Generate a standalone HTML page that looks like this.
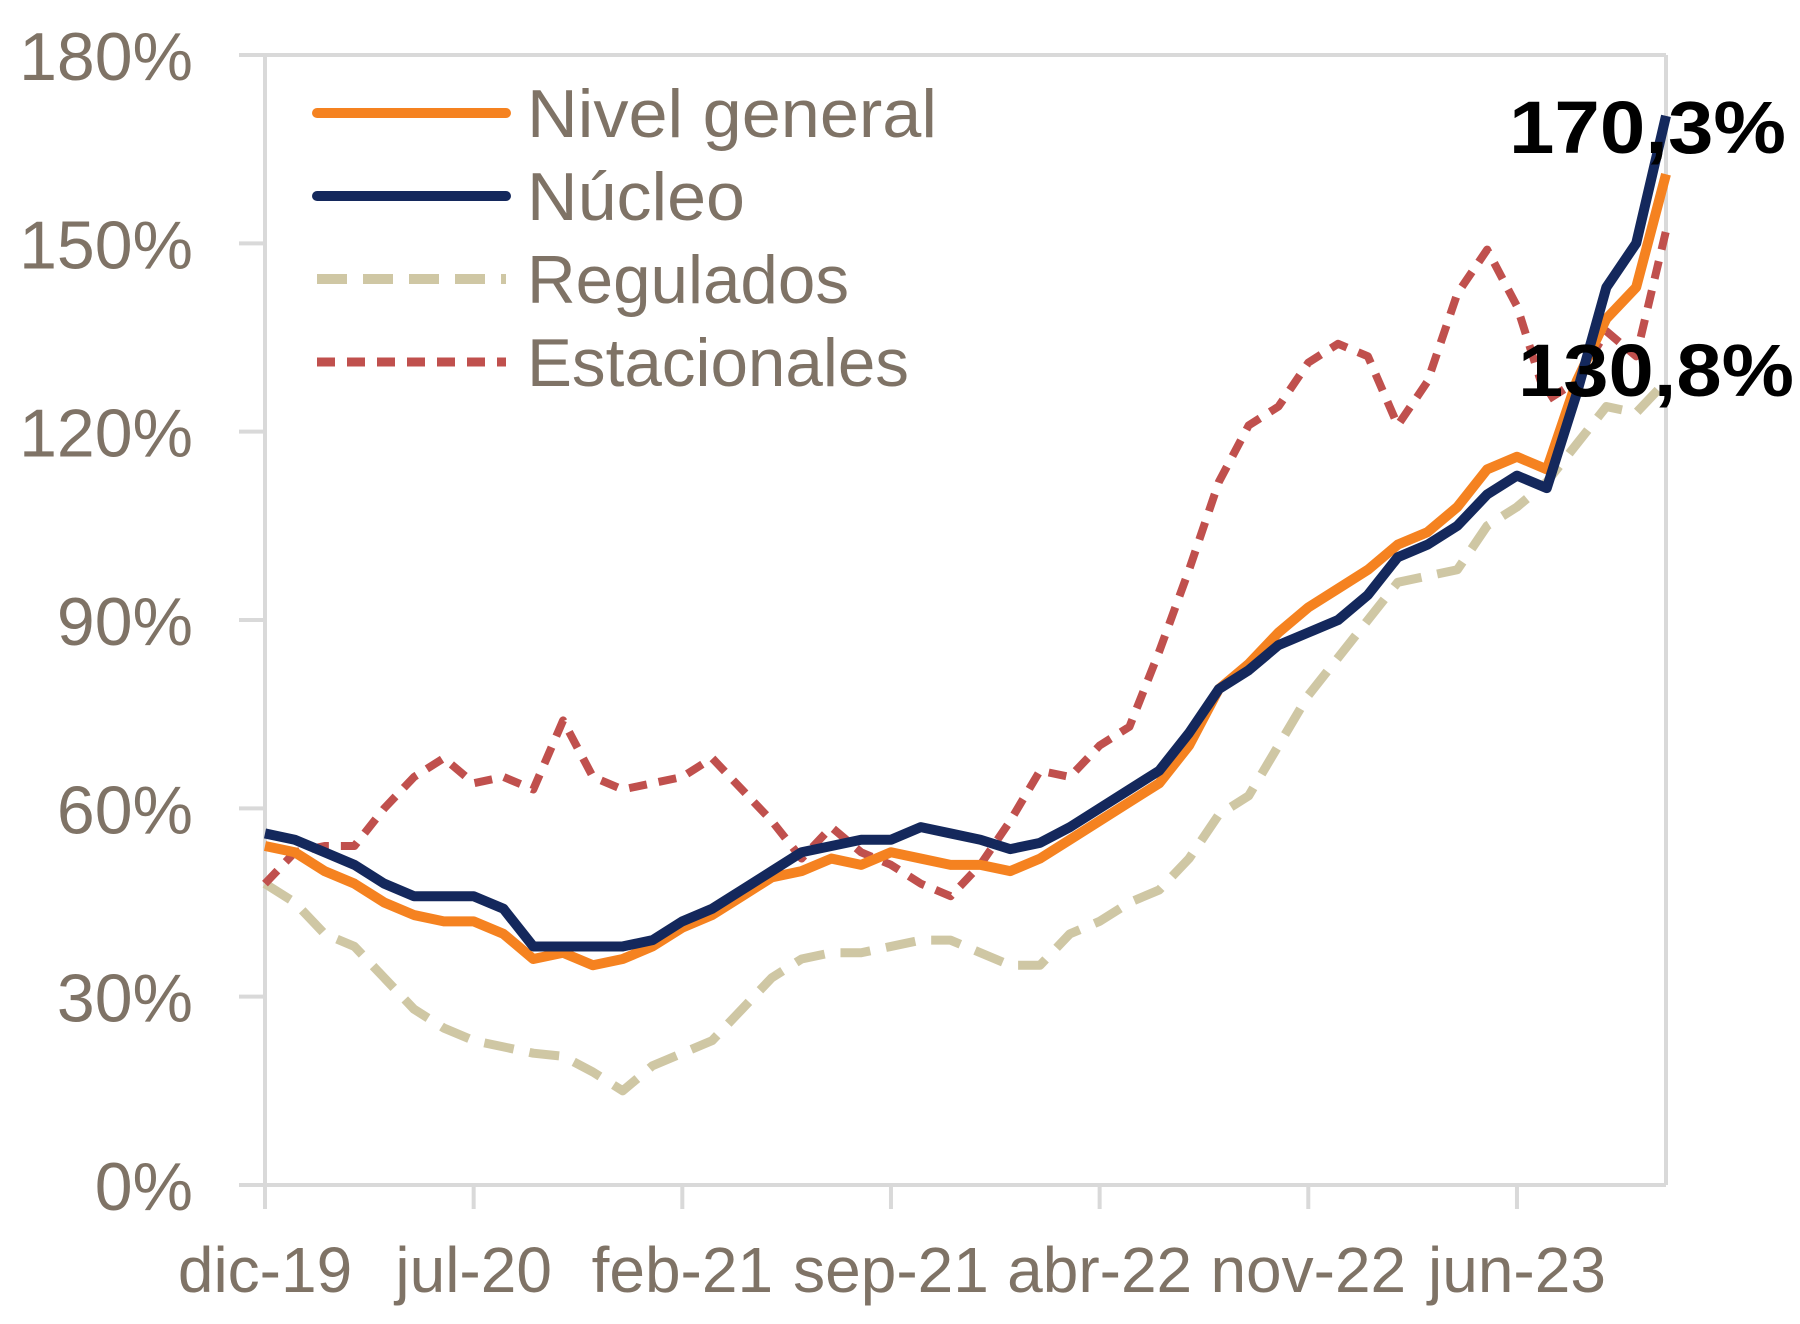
<!DOCTYPE html>
<html><head><meta charset="utf-8"><style>
html,body{margin:0;padding:0;background:#fff;}
svg{display:block;font-family:"Liberation Sans",sans-serif;}
</style></head><body>
<svg id="chart" width="1800" height="1324" viewBox="0 0 1800 1324" xmlns="http://www.w3.org/2000/svg">
<g id="axes"></g>
<g id="series"></g>
<g id="legend">
  <line x1="317" y1="113" x2="506" y2="113" stroke="#f58220" stroke-width="10" stroke-linecap="round"/>
  <text x="527" y="137" font-size="68" fill="#7f7366" textLength="410" lengthAdjust="spacingAndGlyphs">Nivel general</text>
  <line x1="317" y1="196" x2="506" y2="196" stroke="#14285c" stroke-width="10" stroke-linecap="round"/>
  <text x="527" y="220" font-size="68" fill="#7f7366" textLength="218" lengthAdjust="spacingAndGlyphs">Núcleo</text>
  <line x1="317" y1="279" x2="506" y2="279" stroke="#cfc7a4" stroke-width="10" stroke-dasharray="30,16"/>
  <text x="527" y="303" font-size="68" fill="#7f7366" textLength="322" lengthAdjust="spacingAndGlyphs">Regulados</text>
  <line x1="317" y1="362" x2="506" y2="362" stroke="#c0504d" stroke-width="9" stroke-dasharray="18,12"/>
  <text x="527" y="386" font-size="68" fill="#7f7366" textLength="382" lengthAdjust="spacingAndGlyphs">Estacionales</text>
</g>
<text x="1509" y="153" font-size="74" font-weight="bold" fill="#000" textLength="277" lengthAdjust="spacingAndGlyphs">170,3%</text>
<text x="1518" y="396" font-size="74" font-weight="bold" fill="#000" textLength="276" lengthAdjust="spacingAndGlyphs">130,8%</text>
</svg>
<script>
const months = 48;
const yTicks = [0,30,60,90,120,150,180];
const yTickLabels = ["0%","30%","60%","90%","120%","150%","180%"];
const xTickIdx = [0,7,14,21,28,35,42];
const xTickLabels = ["dic-19","jul-20","feb-21","sep-21","abr-22","nov-22","jun-23"];
const nivelGeneral = [54,53,50,48,45,43,42,42,40,36,37,35,36,38,41,43,46,49,50,52,51,53,52,51,51,50,52,55,58,61,64,70,79,83,88,92,95,98,102,104,108,114,116,114,128,138,143,161];
const nucleo = [56,55,53,51,48,46,46,46,44,38,38,38,38,39,42,44,47,50,53,54,55,55,57,56,55,53.5,54.5,57,60,63,66,72,79,82,86,88,90,94,100,102,105,110,113,111,126,143,150,170.3];
const regulados = [48,45,40,38,33,28,25,23,22,21,20.5,18,15,19,21,23,28,33,36,37,37,38,39,39,37,35,35,40,42,45,47,52,59,62,70,78,84,90,96,97,98,105,108,112,118,124,123,128];
const estacionales = [48,53,54,54,60,65,68,64,65,63,74,65,63,64,65,68,63,58,52,57,53,51,48,46,51,58,66,65,70,73,85,98,112,121,124,131,134,132,121,128,142,149,140,125,128,136,132,152];

const L=265,R=1666,T=55,B=1185;
const xs=i=>L+(R-L)*i/(months-1);
const ys=v=>B-(B-T)*v/180;
const NS="http://www.w3.org/2000/svg";
const axes=document.getElementById('axes');
const ser=document.getElementById('series');
function mk(tag,attrs,parent){const e=document.createElementNS(NS,tag);for(const k in attrs)e.setAttribute(k,attrs[k]);parent.appendChild(e);return e;}
const grey="#d9d9d9", txt="#7f7366";
let f=mk('line',{x1:R,y1:T,x2:R,y2:B,stroke:grey,'stroke-width':4},axes);


f=mk('line',{x1:L,y1:T,x2:R,y2:T,stroke:grey,'stroke-width':4},axes);


f=mk('line',{x1:L,y1:T,x2:L,y2:B,stroke:grey,'stroke-width':4},axes);


f=mk('line',{x1:L-26,y1:B,x2:R,y2:B,stroke:grey,'stroke-width':4},axes);


yTicks.forEach((v,i)=>{
  const t=mk('line',{x1:L-26,y1:ys(v),x2:L,y2:ys(v),stroke:grey,'stroke-width':4},axes);
  
  
  const lb=mk('text',{x:193,y:ys(v)+25,'font-size':68,fill:txt,'text-anchor':'end'},axes);
  
  
  lb.textContent=yTickLabels[i];
});
xTickIdx.forEach((m,i)=>{
  const x=xs(m);
  const t=mk('line',{x1:x,y1:B,x2:x,y2:B+24,stroke:grey,'stroke-width':4},axes);
  
  
  const lb=mk('text',{x:x,y:1292,'font-size':64,fill:txt,'text-anchor':'middle'},axes);
  
  
  lb.textContent=xTickLabels[i];
});
function line(arr,color,w,dash,name){
  const p=mk('polyline',{points:arr.map((v,i)=>xs(i)+','+ys(v)).join(' '),fill:'none',stroke:color,'stroke-width':w,'stroke-linejoin':'round'},ser);
  if(dash)p.setAttribute('stroke-dasharray',dash);
  
  
}
line(regulados,"#cfc7a4",9,"30,16","line-regulados");
line(estacionales,"#c0504d",8,"18,12","line-estacionales");
line(nivelGeneral,"#f58220",10,null,"line-nivel-general");
line(nucleo,"#14285c",10,null,"line-nucleo");
</script>
</body></html>
